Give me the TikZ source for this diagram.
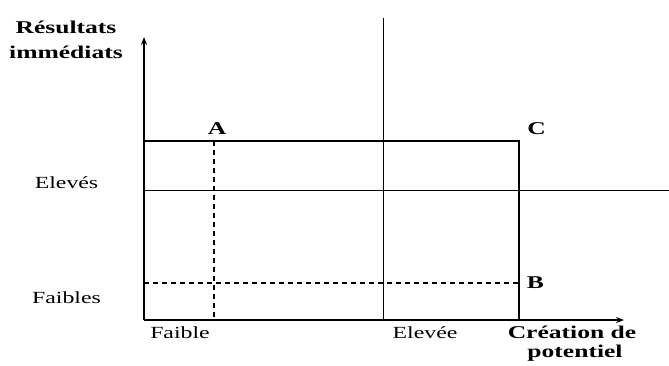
\documentclass[tikz,border=0pt]{standalone}
\usepackage{fontspec}
\setmainfont{Liberation Serif}
\usetikzlibrary{arrows.meta}
\newcommand{\wreg}[1]{\scalebox{1.4}[1]{\fontsize{17}{17}\selectfont #1}}
\newcommand{\wbold}[1]{\scalebox{1.42}[1]{\fontsize{18}{18}\selectfont\bfseries #1}}
\begin{document}
\begin{tikzpicture}[x=1pt,y=-1pt,
  lbl/.style={inner sep=0pt, anchor=base},
  axis/.style={line width=1.5pt, -{Stealth[length=8pt,width=6pt]}},
  thick line/.style={line width=2.6pt},
  thin line/.style={line width=1pt},
  dash line/.style={line width=1.1pt, dash pattern=on 5pt off 4pt}]
\useasboundingbox (0,0) rectangle (669,365);
% coordinates
\coordinate (O) at (144,320);
\coordinate (ytop) at (144,37);
\coordinate (xend) at (624,320);
\coordinate (TL) at (144,141);
\coordinate (TR) at (519,141);
\coordinate (BR) at (519,320);
\coordinate (HL) at (144,190.5);
\coordinate (HR) at (669,190.5);
\coordinate (VT) at (383,18);
\coordinate (VB) at (383,320);
\coordinate (DT) at (214,141);
\coordinate (DB) at (214,320);
\coordinate (DL) at (144,283);
\coordinate (DR) at (519,283);
% lines
\draw[thin line] (HL) -- (HR);
\draw[thin line] (VT) -- (VB);
\draw[dash line] (DT) -- (DB);
\draw[dash line] (DL) -- (DR);
\draw[thick line, line join=miter] (TL) -- (TR) -- (BR);
\draw[axis] (O) -- (ytop);
\draw[axis] (O) -- (xend);
% labels
\node[lbl] (ry1) at (66,33) {\wbold{Résultats}};
\node[lbl] (ry2) at (66,58) {\wbold{immédiats}};
\node[lbl] (A) at (217,134) {\wbold{A}};
\node[lbl] (C) at (536.5,134) {\wbold{C}};
\node[lbl] (B) at (535.5,288) {\wbold{B}};
\node[lbl] (elev) at (66.5,188) {\wreg{Elevés}};
\node[lbl] (faibles) at (66.5,303) {\wreg{Faibles}};
\node[lbl] (faible) at (180,338) {\wreg{Faible}};
\node[lbl] (elevee) at (425,338) {\wreg{Elevée}};
\node[lbl] (cp1) at (572,338) {\wbold{Création de}};
\node[lbl] (cp2) at (575,357) {\wbold{potentiel}};
\end{tikzpicture}
\end{document}
